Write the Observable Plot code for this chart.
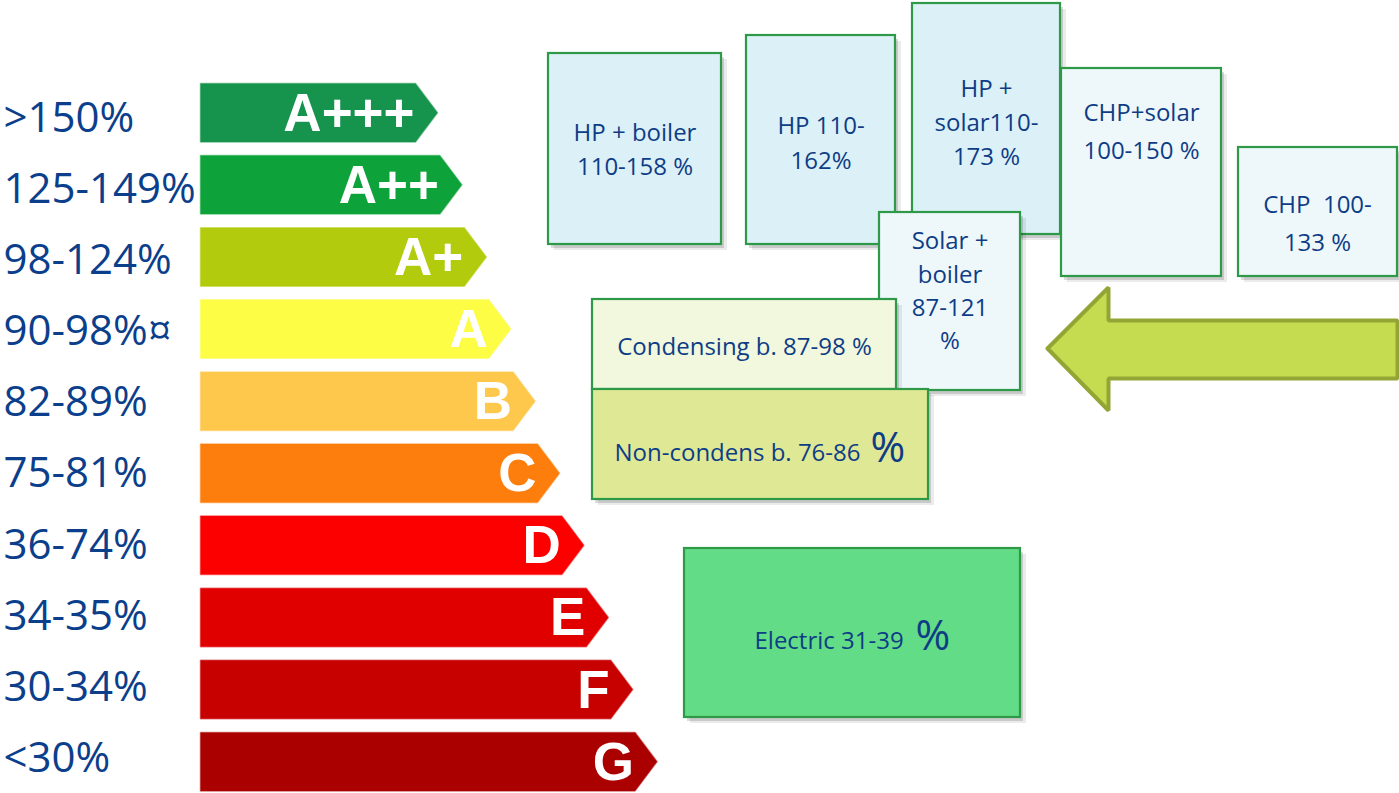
<!DOCTYPE html>
<html><head><meta charset="utf-8">
<script src="https://cdn.jsdelivr.net/npm/d3@7"></script>
<script src="https://cdn.jsdelivr.net/npm/@observablehq/plot@0.6"></script>
<style>html,body{margin:0;padding:0;background:#fff;} #chart svg{display:block}</style>
</head><body><div id="chart"></div>
<script>
// ---------- data ----------
const classes = ["A+++","A++","A+","A","B","C","D","E","F","G"];
const classRanges = [">150%","125-149%","98-124%","90-98%¤","82-89%","75-81%","36-74%","34-35%","30-34%","<30%"];
const techLabels = [
  "HP + boiler\n110-158 %",
  "HP 110-\n162%",
  "HP +\nsolar110-\n173 %",
  "CHP+solar\n100-150 %",
  "CHP  100-\n133 %",
  "Solar +\nboiler\n87-121\n%",
  "Condensing b. 87-98 %",
  "Non-condens b. 76-86",
  "Electric 31-39"
];
const techBigPercent = [false,false,false,false,false,false,false,true,true];

// ---------- layout & styles ----------
const W = 1399, H = 793;
const classColors = ["#16934c","#0ea33a","#b2cb0c","#fdfd45","#fdc84b","#fd7e0c","#fc0000","#e00000","#c70000","#ab0000"];
const barLeft = 200, barTop0 = 83, barStep = 72.1, barH = 58.5, tip0 = 437, tipStep = 24.4, tipDepth = 22;
const labelY0 = 118, labelStep = 71.1;
const blueA = "#dcf0f7", blueB = "#eef8fb";
const boxLayout = [
  {x1:548, y1:53,  x2:721,  y2:244, fill:blueA, tx:634.5, ty:147, lh:1.42},
  {x1:746, y1:35,  x2:895,  y2:244, fill:blueA, tx:820.5, ty:140, lh:1.45},
  {x1:912, y1:3,   x2:1060, y2:234, fill:blueA, tx:986,   ty:120, lh:1.42},
  {x1:1061,y1:68,  x2:1221, y2:276, fill:blueB, tx:1141,  ty:127, lh:1.58},
  {x1:1238,y1:147, x2:1397, y2:276, fill:blueB, tx:1317,  ty:219, lh:1.58},
  {x1:879, y1:212, x2:1020, y2:390, fill:blueB, tx:949.5, ty:288, lh:1.39},
  {x1:592, y1:299, x2:896,  y2:389, fill:"#f2f8dd", tx:744, ty:344, lh:1.4},
  {x1:592, y1:389, x2:928,  y2:499, fill:"#dfe894", tx:614, ty:460, px:870, lh:1.4},
  {x1:684, y1:548, x2:1020, y2:717, fill:"#63dc87", tx:754, ty:648, px:915, lh:1.4}
];
const arrowPts = [[1047,348],[1108,287],[1108,320],[1397,320],[1397,378],[1108,378],[1108,410],[1047,348]];
const textColor = "#0e3d86";
const labelColor = "#0c3f8b";
const boxFont = "Open Sans, Noto Sans, sans-serif";

// ---------- marks ----------
const marks = [];
classes.forEach((c, i) => {
  const top = barTop0 + barStep * i, tip = tip0 + tipStep * i, body = tip - tipDepth;
  const pts = [[barLeft, top],[body, top],[tip, top + barH/2],[body, top + barH],[barLeft, top + barH],[barLeft, top]];
  marks.push(Plot.line(pts, {x: d => d[0], y: d => d[1], fill: classColors[i], stroke: classColors[i], strokeWidth: 1.5, strokeOpacity: 0.5, curve: "linear"}));
});
marks.push(Plot.text(classes, {
  x: (d, i) => tip0 + tipStep * i - tipDepth - 1,
  y: (d, i) => barTop0 + barStep * i + barH / 2 + 1,
  text: d => d, textAnchor: "end", fill: "white", fontSize: 53, fontWeight: "bold",
  fontFamily: "Liberation Sans, Arial, sans-serif"
}));
marks.push(Plot.text(classRanges, {
  x: () => 3,
  y: (d, i) => labelY0 + labelStep * i,
  text: d => d, textAnchor: "start", fill: labelColor, fontSize: 42,
  fontFamily: boxFont
}));

techLabels.forEach((label, i) => {
  const L = boxLayout[i];
  marks.push(Plot.rect([L], {x1: "x1", x2: "x2", y1: "y1", y2: "y2", fill: "#000", fillOpacity: 0.08, dx: 6, dy: 6}));
  marks.push(Plot.rect([L], {x1: "x1", x2: "x2", y1: "y1", y2: "y2", fill: "#000", fillOpacity: 0.14, dx: 3, dy: 4}));
  marks.push(Plot.rect([L], {x1: "x1", x2: "x2", y1: "y1", y2: "y2", fill: L.fill, stroke: "#2e9a48", strokeWidth: 2.2}));
  if (techBigPercent[i]) {
    marks.push(Plot.text([label], {x: () => L.tx, y: () => L.ty, text: d => d, textAnchor: "start", lineAnchor: "bottom",
      fill: textColor, fontSize: 24, fontFamily: boxFont}));
    marks.push(Plot.text(["%"], {x: () => L.px, y: () => L.ty + 1, text: d => d, textAnchor: "start", lineAnchor: "bottom",
      fill: textColor, fontSize: 42, fontFamily: boxFont}));
  } else {
    marks.push(Plot.text([label], {x: () => L.tx, y: () => L.ty, text: d => d, textAnchor: "middle", lineAnchor: "middle",
      lineHeight: L.lh, fill: textColor, fontSize: 24, fontFamily: boxFont}));
  }
});

marks.push(Plot.line(arrowPts, {x: d => d[0], y: d => d[1], fill: "#c6dc50", stroke: "#93a535", strokeWidth: 4, strokeLinejoin: "miter", curve: "linear"}));

const chart = Plot.plot({
  width: W, height: H,
  margin: 0, marginTop: 0, marginRight: 0, marginBottom: 0, marginLeft: 0,
  x: {domain: [0, W], range: [0, W], axis: null},
  y: {domain: [0, H], range: [0, H], axis: null},
  style: {background: "white", overflow: "visible"},
  marks
});
document.getElementById("chart").appendChild(chart);
</script>
</body></html>
